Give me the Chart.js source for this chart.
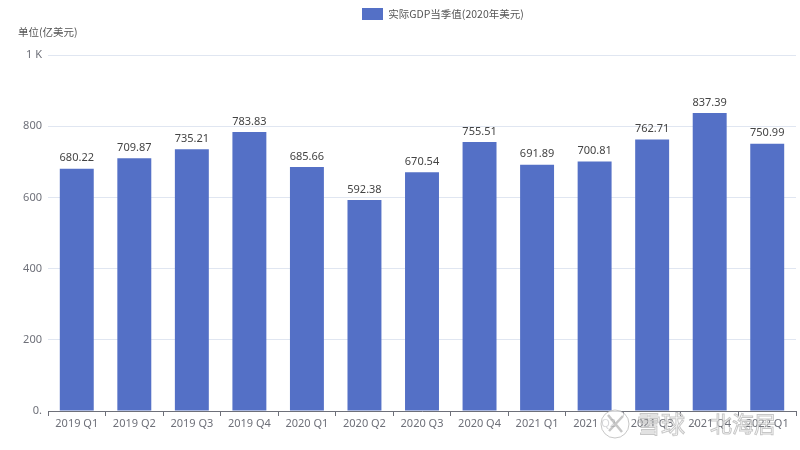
<!DOCTYPE html>
<html>
<head>
<meta charset="utf-8">
<style>
  html, body { margin:0; padding:0; background:#fff; }
  #wrap { width:800px; height:450px; }
</style>
<script src="https://cdn.jsdelivr.net/npm/chart.js@4"></script>
</head>
<body>
<div id="wrap"><canvas id="chart"></canvas></div>
<script>
const categories = ['2019 Q1','2019 Q2','2019 Q3','2019 Q4','2020 Q1','2020 Q2','2020 Q3','2020 Q4','2021 Q1','2021 Q2','2021 Q3','2021 Q4','2022 Q1'];
const gdpValues = [680.22,709.87,735.21,783.83,685.66,592.38,670.54,755.51,691.89,700.81,762.71,837.39,750.99];
const seriesName = '实际GDP当季值(2020年美元)';
const unitLabel = '单位(亿美元)';
const watermarkLeft = '雪球';
const watermarkRight = '北海居';

const FONT = '"Noto Sans CJK SC","Noto Sans",sans-serif';

// value labels above each bar, y axis unit, legend placement and the site watermark
const extras = {
  id:'extras',
  beforeInit(chart){
    // reserve the gap between legend and plot
    const fit = chart.legend.fit;
    chart.legend.fit = function(){
      fit.call(this);
      this.height = 49;
    };
  },
  afterLayout(chart){
    chart.legend.left = 360;
  },
  afterDatasetsDraw(chart){
    const ctx = chart.ctx;
    ctx.save();
    ctx.font = '11px "Noto Sans",sans-serif';
    ctx.fillStyle = '#444';
    ctx.textAlign = 'center';
    ctx.textBaseline = 'bottom';
    chart.getDatasetMeta(0).data.forEach(function(bar, i){
      ctx.fillText(gdpValues[i].toFixed(2), bar.x, bar.y - 5);
    });
    ctx.font = '10.5px ' + FONT;
    ctx.textAlign = 'left';
    ctx.textBaseline = 'middle';
    ctx.fillStyle = '#555';
    ctx.fillText(unitLabel, 18, 32);
    ctx.restore();
  },
  afterDraw(chart){
    const ctx = chart.ctx;
    ctx.save();
    ctx.strokeStyle = 'rgba(130,130,130,0.45)';
    ctx.fillStyle = 'rgba(255,255,255,0.72)';
    ctx.lineWidth = 1;
    ctx.beginPath();
    ctx.arc(615, 424, 14, 0, Math.PI * 2);
    ctx.fill();
    ctx.stroke();
    ctx.lineWidth = 2.5;
    ctx.beginPath();
    ctx.moveTo(608, 415); ctx.lineTo(622, 432);
    ctx.moveTo(623, 416); ctx.lineTo(609, 431);
    ctx.stroke();
    ctx.lineWidth = 1;
    ctx.textBaseline = 'middle';
    ctx.textAlign = 'left';
    ctx.font = '24px "Noto Sans CJK SC"';
    ctx.fillText(watermarkLeft, 637, 424);
    ctx.strokeText(watermarkLeft, 637, 424);
    ctx.font = '22px "Noto Sans CJK SC"';
    ctx.fillText(watermarkRight, 710, 424);
    ctx.strokeText(watermarkRight, 710, 424);
    ctx.fillStyle = 'rgba(130,130,130,0.6)';
    ctx.fillRect(694, 423, 2, 2);
    ctx.restore();
  }
};

new Chart(document.getElementById('chart').getContext('2d'), {
  type:'bar',
  data:{
    labels: categories,
    datasets:[{
      label: seriesName,
      data: gdpValues,
      backgroundColor:'#5470c6',
      borderWidth:0,
      inflateAmount:0,
      categoryPercentage:1,
      barPercentage:0.59
    }]
  },
  options:{
    responsive:true,
    maintainAspectRatio:false,
    animation:false,
    layout:{ padding:{ top:6, right:4, left:0, bottom:0 } },
    plugins:{
      tooltip:{ enabled:false },
      legend:{
        position:'top',
        align:'start',
        onClick:null,
        labels:{ boxWidth:21, boxHeight:12, color:'#555', font:{ size:10.5, family:FONT }, padding:2 }
      }
    },
    scales:{
      x:{
        afterFit(scale){ scale.height = 39; },
        border:{ color:'#6E7079' },
        grid:{ display:true, drawOnChartArea:false, drawTicks:true, tickLength:5, tickColor:'#6E7079', offset:true },
        ticks:{ color:'#6E7079', font:{ size:11, family:'"Noto Sans",sans-serif' }, autoSkip:false, maxRotation:0, padding:1 }
      },
      y:{
        min:0, max:1000,
        afterFit(scale){ scale.width = 48; },
        border:{ display:false },
        grid:{ color:'#E0E6F1', drawTicks:false },
        ticks:{
          stepSize:200, color:'#6E7079', font:{ size:11, family:'"Noto Sans",sans-serif' }, padding:6,
          callback(v){ return v === 1000 ? '1 K' : v === 0 ? '0.' : v; }
        }
      }
    }
  },
  plugins:[extras]
});
</script>
</body>
</html>
